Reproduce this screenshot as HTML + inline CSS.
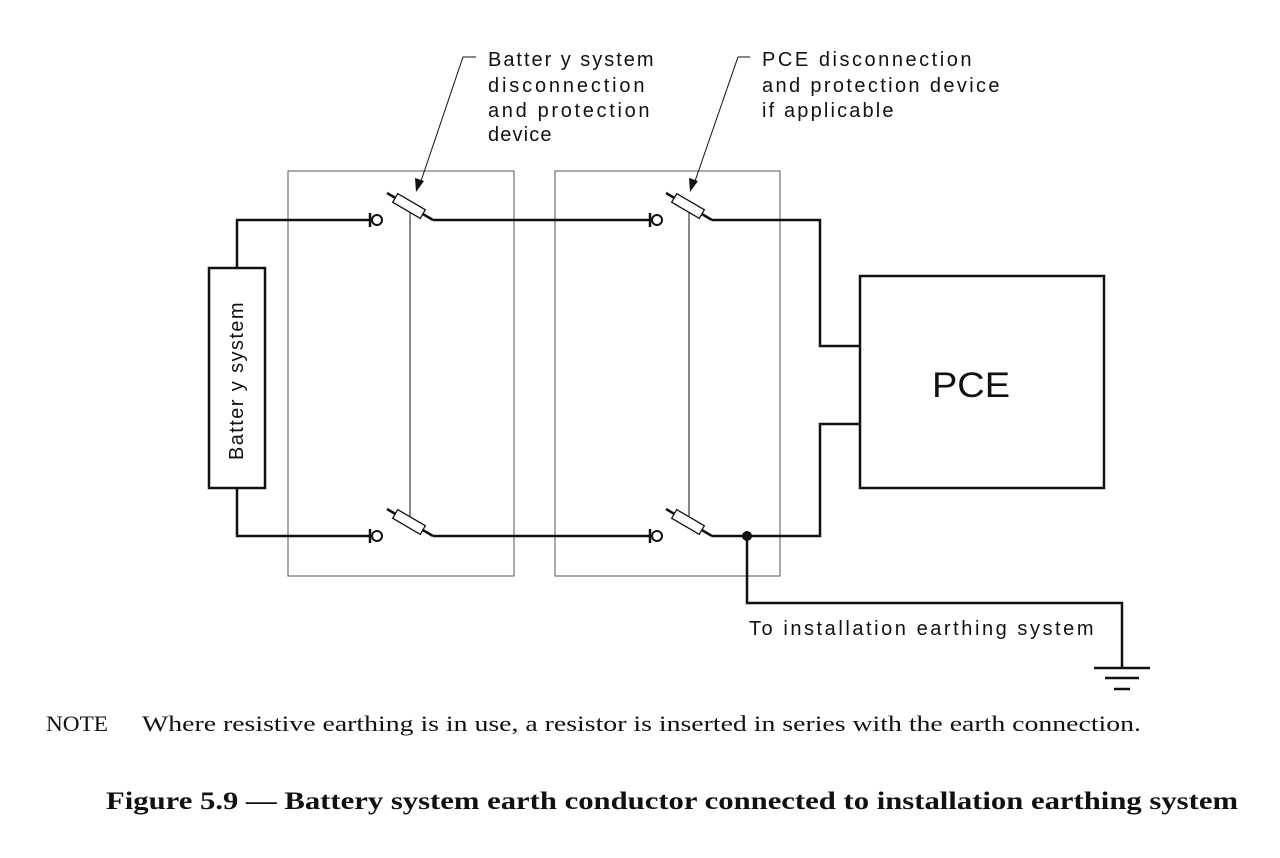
<!DOCTYPE html>
<html><head><meta charset="utf-8"><style>
body{margin:0;background:#fff;width:1280px;height:858px;overflow:hidden}
svg{display:block}
.t{font-family:"Liberation Sans",sans-serif;font-size:20px;fill:#111;letter-spacing:0.5px}
.s{font-family:"Liberation Serif",serif;fill:#111}
</style></head><body>
<svg width="1280" height="858" viewBox="0 0 1280 858">
<g fill="none" stroke="#111">
<rect x="288" y="171" width="226" height="405" stroke-width="1" stroke="#555"/>
<rect x="555" y="171" width="225" height="405" stroke-width="1" stroke="#555"/>
<rect x="209" y="268" width="56" height="220" stroke-width="2.5"/>
<g stroke-width="2.5">
<polyline points="237,268 237,220 370,220"/>
<polyline points="237,488 237,536 370,536"/>
<line x1="433" y1="220" x2="650" y2="220"/>
<line x1="433" y1="536" x2="650" y2="536"/>
<polyline points="712,220 820,220 820,346 860,346"/>
<polyline points="712,536 820,536 820,424 860,424"/>
<polyline points="747,536 747,603 1122,603 1122,668"/>
<line x1="1094" y1="668" x2="1150" y2="668"/>
<line x1="1105" y1="678" x2="1139" y2="678"/>
<line x1="1114" y1="689" x2="1130" y2="689"/>
<line x1="387" y1="193" x2="433" y2="220"/>
<line x1="387" y1="509" x2="433" y2="536"/>
<line x1="666" y1="193" x2="712" y2="220"/>
<line x1="666" y1="509" x2="712" y2="536"/>
<line x1="370" y1="213" x2="370" y2="227"/>
<line x1="370" y1="529" x2="370" y2="543"/>
<line x1="650" y1="213" x2="650" y2="227"/>
<line x1="650" y1="529" x2="650" y2="543"/>
</g>
<g stroke-width="2">
<circle cx="377" cy="220" r="5"/><circle cx="377" cy="536" r="5"/>
<circle cx="657" cy="220" r="5"/><circle cx="657" cy="536" r="5"/>
</g>
<g stroke-width="1.3" fill="#fff">
<rect x="-16" y="-5" width="32" height="10" transform="translate(409,206) rotate(30.4)"/>
<rect x="-16" y="-5" width="32" height="10" transform="translate(409,522) rotate(30.4)"/>
<rect x="-16" y="-5" width="32" height="10" transform="translate(688,206) rotate(30.4)"/>
<rect x="-16" y="-5" width="32" height="10" transform="translate(688,522) rotate(30.4)"/>
</g>
<g stroke-width="1">
<line x1="410" y1="212" x2="410" y2="516"/>
<line x1="689" y1="212" x2="689" y2="516"/>
<polyline points="476,57 463,57 420,184"/>
<polyline points="750,57 738,57 694,184"/>
</g>
<rect x="860" y="276" width="244" height="212" stroke-width="2.5"/>
</g>
<polygon points="416,192 415,178 424,181" fill="#111"/>
<polygon points="690,192 689,178 698,181" fill="#111"/>
<circle cx="747" cy="536" r="5" fill="#111"/>
<g class="t">
<text x="488" y="66" textLength="166" lengthAdjust="spacing">Batter y system</text>
<text x="488" y="92" textLength="157" lengthAdjust="spacing">disconnection</text>
<text x="488" y="117" textLength="162" lengthAdjust="spacing">and  protection</text>
<text x="488" y="141" textLength="64" lengthAdjust="spacing">device</text>
<text x="762" y="66" textLength="210" lengthAdjust="spacing">PCE disconnection</text>
<text x="762" y="92" textLength="238" lengthAdjust="spacing">and protection device</text>
<text x="762" y="117" textLength="132" lengthAdjust="spacing">if applicable</text>
<text x="749" y="635" textLength="345" lengthAdjust="spacing">To installation  earthing system</text>
<text transform="translate(243,460) rotate(-90)" textLength="158" lengthAdjust="spacing">Batter y  system</text>
<text x="932" y="397" style="font-size:35px;letter-spacing:0" textLength="78" lengthAdjust="spacingAndGlyphs">PCE</text>
</g>
<text class="s" x="46" y="731" font-size="22" textLength="62" lengthAdjust="spacingAndGlyphs">NOTE</text>
<text class="s" x="142" y="731" font-size="22.5" textLength="999" lengthAdjust="spacingAndGlyphs">Where resistive earthing is in use, a resistor is inserted in series with the earth connection.</text>
<text class="s" x="106" y="809" font-size="25" font-weight="bold" textLength="1132" lengthAdjust="spacingAndGlyphs">Figure 5.9 — Battery system earth conductor connected to installation earthing system</text>
</svg>
</body></html>
